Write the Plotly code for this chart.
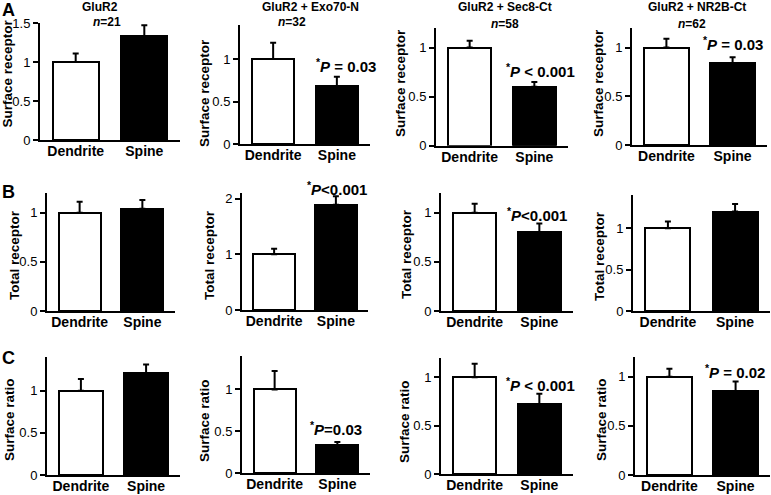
import plotly.graph_objects as go

W, H = 771, 495
categories = ["Dendrite", "Spine"]

panel_titles = ["GluR2", "GluR2 + Exo70-N", "GluR2 + Sec8-Ct", "GluR2 + NR2B-Ct"]
panel_n = ["21", "32", "58", "62"]
row_titles = ["Surface receptor", "Total receptor", "Surface ratio"]
row_letters = ["A", "B", "C"]

# values [dendrite, spine], upper errors [dendrite, spine]
vals_A = [[1.0, 1.33], [1.0, 0.68], [1.0, 0.60], [1.0, 0.84]]
errs_A = [[0.11, 0.14], [0.19, 0.11], [0.07, 0.05], [0.09, 0.06]]
vals_B = [[1.0, 1.04], [1.0, 1.89], [1.0, 0.80], [1.0, 1.20]]
errs_B = [[0.11, 0.09], [0.10, 0.15], [0.09, 0.09], [0.08, 0.09]]
vals_C = [[1.0, 1.21], [1.0, 0.33], [1.0, 0.72], [1.0, 0.85]]
errs_C = [[0.14, 0.10], [0.22, 0.04], [0.14, 0.11], [0.08, 0.10]]

y_max = [[1.5, 1.4, 1.2, 1.2], [1.2, 2.1, 1.2, 1.4], [1.4, 1.4, 1.2, 1.2]]
y_ticks = [[[0, 0.5, 1, 1.5], [0, 0.5, 1], [0, 0.5, 1], [0, 0.5, 1]],
           [[0, 0.5, 1], [0, 1, 2], [0, 0.5, 1], [0, 0.5, 1]],
           [[0, 0.5, 1], [0, 0.5, 1], [0, 0.5, 1], [0, 0.5, 1]]]
y_ticktext = [[["0", "0.5", "1", "1.5"], ["0", "0.5", "1"], ["0", "0.5", "1"], ["0", "0.5", "1"]],
              [["0", "0.5", "1"], ["0", "1", "2"], ["0", "0.5", "1"], ["0", "0.5", "1"]],
              [["0", "0.5", "1"], ["0", "0.5", "1"], ["0", "0.5", "1"], ["0", "0.5", "1"]]]

# significance labels: (row, col, text after "*P")
p_labels = [(0, 1, " = 0.03"), (0, 2, " &lt; 0.001"), (0, 3, " = 0.03"),
            (1, 1, "&lt;0.001"), (1, 2, "&lt;0.001"),
            (2, 1, "=0.03"), (2, 2, " &lt; 0.001"), (2, 3, " = 0.02")]

# layout (pixels): x-axis left/right, y of zero and y of axis top
px_x = [[(40, 180), (240, 370), (436, 568), (632, 767)],
        [(47, 175), (242, 368), (441, 573), (633, 770)],
        [(47, 180), (242, 370), (441, 573), (635, 770)]]
px_y = [[(140, 23), (144, 25), (145.7, 28), (145, 28)],
        [(311, 193), (310, 193), (311, 193), (311, 195)],
        [(475, 357), (473, 356), (474, 358), (475, 357)]]
ytitle_pos = [[(7.5, 74), (204, 93), (401, 83), (599, 83)],
              [(14, 255), (209, 255), (406, 254), (599, 256)],
              [(9, 420), (204, 421), (404, 422), (601, 420)]]
p_pos = {(0, 1): (346, 66), (0, 2): (540, 70), (0, 3): (733, 43),
         (1, 1): (337, 188), (1, 2): (537, 214),
         (2, 1): (336, 428), (2, 2): (540, 384), (2, 3): (735, 371)}
title_pos = [(100, 7, 107, 22), (310, 7, 292, 22), (505, 7, 505, 24), (697, 7, 692, 24)]
letter_pos = [(8, 10), (8, 192), (8, 358)]

FONT = "Arial, Liberation Sans, sans-serif"
vals = [vals_A, vals_B, vals_C]
errs = [errs_A, errs_B, errs_C]


def ann(text, px, py, size, angle=0):
    return dict(text=text, x=px / W, y=1 - py / H, xref="paper", yref="paper",
                xanchor="center", yanchor="middle", showarrow=False, textangle=angle,
                font=dict(family=FONT, size=size, color="black", weight="bold"))


fig = go.Figure()
layout = {}
annotations = []
k = 0
for r in range(3):
    for c in range(4):
        k += 1
        xa = "x" if k == 1 else f"x{k}"
        ya = "y" if k == 1 else f"y{k}"
        v = vals[r][c]
        e = errs[r][c]
        fig.add_trace(go.Bar(
            x=categories, y=v, xaxis=xa, yaxis=ya, width=0.67,
            marker=dict(color=["white", "black"], line=dict(color="black", width=2)),
            error_y=dict(type="data", symmetric=False, array=e, arrayminus=[0, 0],
                         color="black", thickness=2, width=3),
            showlegend=False, hoverinfo="skip"))
        (xl, xr) = px_x[r][c]
        (y0, yt) = px_y[r][c]
        layout["xaxis" if k == 1 else f"xaxis{k}"] = dict(
            domain=[xl / W, xr / W], anchor=ya, range=[-0.52, 1.52], automargin=False,
            showline=True, linecolor="black", linewidth=2, ticks="", showgrid=False,
            zeroline=False, fixedrange=True, ticklabelstandoff=-3,
            tickfont=dict(family=FONT, size=14, color="black", weight="bold"))
        layout["yaxis" if k == 1 else f"yaxis{k}"] = dict(
            domain=[1 - y0 / H, 1 - yt / H], anchor=xa, range=[0, y_max[r][c]], automargin=False,
            showline=True, linecolor="black", linewidth=2, ticks="outside",
            ticklen=5, tickwidth=2, tickcolor="black", showgrid=False, zeroline=False,
            tickvals=y_ticks[r][c], ticktext=y_ticktext[r][c],
            tickfont=dict(family=FONT, size=13, color="black"),
            fixedrange=True)
        tx, ty = ytitle_pos[r][c]
        annotations.append(ann(row_titles[r], tx, ty, 13.5, angle=-90))

for c in range(4):
    tx, ty, nx, ny = title_pos[c]
    annotations.append(ann(panel_titles[c], tx, ty, 12))
    annotations.append(ann(f"<i>n</i>={panel_n[c]}", nx, ny, 12))

for (r, c, t) in p_labels:
    px, py = p_pos[(r, c)]
    annotations.append(ann(f"<sup>*</sup><i>P</i>{t}", px, py, 15))

for i, (lx, ly) in enumerate(letter_pos):
    annotations.append(ann(row_letters[i], lx, ly, 18))

fig.update_layout(**layout)
fig.update_layout(width=W, height=H, margin=dict(l=0, r=0, t=0, b=0, autoexpand=False),
                  paper_bgcolor="white", plot_bgcolor="white", bargap=0,
                  annotations=annotations, font=dict(family=FONT, color="black"))
fig.write_html("out.html", config={"displayModeBar": False},
               post_script="document.body.style.margin='0';document.body.style.padding='0';document.body.style.overflow='hidden';")
